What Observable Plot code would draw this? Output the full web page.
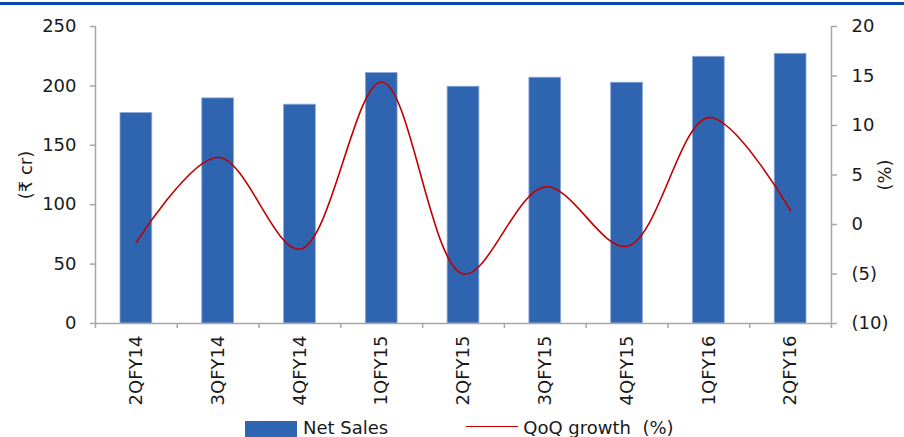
<!DOCTYPE html>
<html>
<head>
<meta charset="utf-8">
<script src="https://cdn.jsdelivr.net/npm/d3@7"></script>
<script src="https://cdn.jsdelivr.net/npm/@observablehq/plot@0.6"></script>
<style>
  html, body { margin: 0; padding: 0; background: #fff; overflow: hidden; }
  #wrap { position: relative; width: 904px; height: 437px; overflow: hidden; font-family: "DejaVu Sans", sans-serif; }
  #topline { position: absolute; left: 0; top: 2px; width: 904px; height: 3px; background: #0a48a8; z-index: 2; }
  #chart { position: absolute; left: 0; top: 0; }
  #legend { position: absolute; left: 245px; top: 418px; height: 24px; display: flex; align-items: flex-start; font-size: 18px; color: #1a1a1a; line-height: 20px; white-space: pre; }
  .sw { display: inline-block; width: 52px; height: 16px; background: #2f64b0; margin-top: 3px; margin-right: 6px; }
  .ln { display: inline-block; width: 52px; height: 0; border-top: 1.5px solid #c00000; margin-top: 8px; margin-right: 5px; margin-left: 78px; }
</style>
</head>
<body>
<div id="wrap">
  <div id="chart"></div>
  <div id="topline"></div>
  <div id="legend"><span class="sw"></span><span>Net Sales</span><span class="ln"></span><span>QoQ growth  (%)</span></div>
</div>
<script>
const categories = ["2QFY14","3QFY14","4QFY14","1QFY15","2QFY15","3QFY15","4QFY15","1QFY16","2QFY16"];
const netSales = [177.2, 189.5, 184.2, 210.9, 199.3, 206.9, 202.7, 224.5, 227.0];
const qoqGrowth = [-1.8, 6.8, -2.5, 14.4, -5.0, 3.8, -2.2, 10.8, 1.4];
const leftTicks = [0, 50, 100, 150, 200, 250];
const rightTicks = [-10, -5, 0, 5, 10, 15, 20];

// map growth (%) domain [-10, 20] onto the sales domain [0, 250]
const toY = g => (g + 10) * 250 / 30;
const fromY = v => v * 30 / 250 - 10;
const fmtPct = g => { const r = Math.round(g); return r < 0 ? `(${-r})` : `${r}`; };

const rows = categories.map((c, i) => ({
  cat: c, i0: i, i1: i + 1, xc: i + 0.5, sales: netSales[i], gy: toY(qoqGrowth[i])
}));

const axisGray = "#a6a6a6";
const textCol = "#1a1a1a";

const chart = Plot.plot({
  width: 904,
  height: 418,
  marginTop: 26,
  marginBottom: 95,
  marginLeft: 95,
  marginRight: 73,
  x: { type: "linear", domain: [0, categories.length], axis: null },
  y: { type: "linear", domain: [0, 250], axis: null },
  style: { fontFamily: "DejaVu Sans, Noto Sans, sans-serif", fontSize: "18px", color: textCol, background: "white", overflow: "visible" },
  marks: [
    Plot.rectY(rows, { x1: "i0", x2: "i1", y1: 0, y2: "sales", fill: "#2f64b0", stroke: "#8fabd8", strokeWidth: 0.8, insetLeft: 25, insetRight: 25 }),
    Plot.line(rows, { x: "xc", y: "gy", stroke: "#c00000", strokeWidth: 1.6, curve: "catmull-rom" }),
    Plot.ruleX([0], { x: d => d, stroke: axisGray, strokeWidth: 1.5 }),
    Plot.ruleX([categories.length], { x: d => d, stroke: axisGray, strokeWidth: 1.5 }),
    Plot.ruleY([0], { y: d => d, stroke: axisGray, strokeWidth: 1.5 }),
    Plot.axisY({
      anchor: "left", ticks: leftTicks, tickSize: 5, tickPadding: 14,
      stroke: axisGray, fill: textCol, strokeWidth: 1.5,
      label: "(₹ cr)", labelAnchor: "center", labelOffset: 76, labelArrow: "none"
    }),
    Plot.axisY({
      anchor: "right", ticks: rightTicks.map(toY), tickFormat: v => fmtPct(fromY(v)),
      tickSize: 5, tickPadding: 15, stroke: axisGray, fill: textCol, strokeWidth: 1.5,
      label: "(%)", labelAnchor: "center", labelOffset: 59, labelArrow: "none"
    }),
    Plot.axisX({
      ticks: d3.range(categories.length + 1), tickSize: 5, tickFormat: () => "",
      stroke: axisGray, strokeWidth: 1.5, label: null
    }),
    Plot.axisX({
      ticks: rows.map(r => r.xc), tickSize: 0, tickPadding: 12, tickRotate: -90,
      tickFormat: v => categories[Math.floor(v)], fill: textCol, fontSize: 18, label: null
    })
  ]
});
document.getElementById("chart").appendChild(chart);
</script>
</body>
</html>
